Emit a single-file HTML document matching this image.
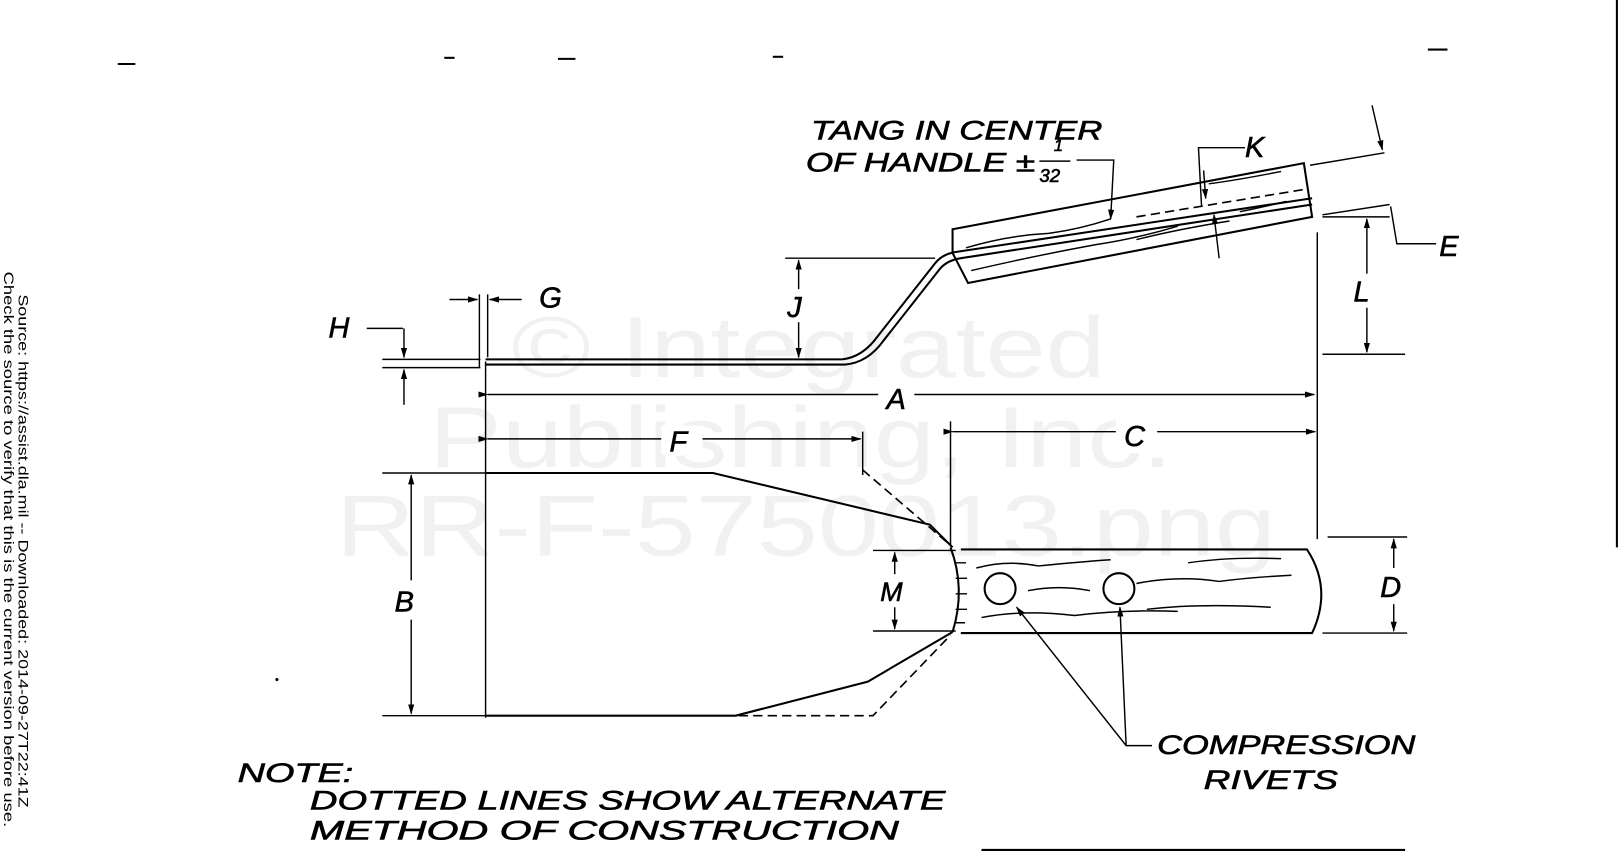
<!DOCTYPE html>
<html><head><meta charset="utf-8"><style>
html,body{margin:0;padding:0;background:#fff;}
svg{display:block;}
text{font-family:"Liberation Sans",sans-serif;font-style:italic;fill:#000;}
.l{stroke:#000;stroke-width:2;fill:none;}
.t{stroke:#000;stroke-width:1.4;fill:none;}
.d{stroke:#000;stroke-width:1.6;fill:none;stroke-dasharray:9 5;}
.w{font-style:normal;fill:#f1f1f1;font-size:84px;}
.h{stroke:#000;stroke-width:0.6;}
</style></head><body>
<svg width="1620" height="852" viewBox="0 0 1568 825" preserveAspectRatio="none" xmlns="http://www.w3.org/2000/svg">
<defs><marker id="a" markerWidth="10" markerHeight="10" refX="9" refY="5" orient="auto" markerUnits="userSpaceOnUse"><path d="M0,2 L10,5 L0,8 z" fill="#000"/></marker></defs>
<!-- watermark -->
<text class="w" x="495" y="365" textLength="575" lengthAdjust="spacingAndGlyphs">© Integrated</text>
<text class="w" x="415" y="452" textLength="720" lengthAdjust="spacingAndGlyphs">Publishing, Inc.</text>
<text class="w" x="325" y="538" textLength="910" lengthAdjust="spacingAndGlyphs">RR-F-5750013.png</text>
<!-- top marks -->
<g class="l" stroke-width="3.5"><line x1="114" y1="62" x2="131" y2="62"/><line x1="430" y1="56" x2="440" y2="56"/><line x1="540" y1="57" x2="557" y2="57"/><line x1="748" y1="55" x2="758" y2="55"/><line x1="1382" y1="48" x2="1401" y2="48"/></g>
<line class="l" x1="1565" y1="0" x2="1565" y2="530" stroke-width="3"/>
<line class="l" x1="950" y1="823" x2="1360" y2="823" stroke-width="3"/>
<!-- side text -->
<g transform="translate(18,285) rotate(90)"><text x="0" y="0" style="font-style:normal;font-size:13px" textLength="497" lengthAdjust="spacingAndGlyphs">Source: https://assist.dla.mil -- Downloaded: 2014-09-27T22:41Z</text></g>
<g transform="translate(4,263) rotate(90)"><text x="0" y="0" style="font-style:normal;font-size:13px" textLength="538" lengthAdjust="spacingAndGlyphs">Check the source to verify that this is the current version before use.</text></g>
<!-- shaft & tang -->
<path class="l" d="M470,348 L815,348 Q835,346 850,325 L905,255 Q912,246 925,244 L1270,192"/>
<path class="l" d="M470,353 L818,353 Q840,351 855,330 L910,260 Q917,252 930,250 L1270,198"/>
<!-- top handle -->
<path class="l" d="M922,222 L1262,158 L1270,210 L937,274 L922,245 Z"/>
<g class="t"><path d="M935,240 q40,-12 80,-14 q30,-4 60,-14"/><path d="M940,262 q60,-14 120,-25 q40,-6 80,-18"/><path d="M1100,232 q40,-10 90,-18"/><path d="M1170,178 q30,-4 70,-12"/><path d="M1200,205 q20,-4 45,-10"/></g>
<path class="d" d="M1100,210 L1265,183"/>
<!-- vertical ext lines -->
<line class="t" x1="470" y1="350" x2="470" y2="695"/>
<line class="t" x1="464" y1="285" x2="464" y2="356"/><line class="t" x1="472" y1="285" x2="472" y2="346"/>
<line class="t" x1="1275" y1="225" x2="1275" y2="522"/>
<line class="t" x1="835" y1="418" x2="835" y2="460"/>
<line class="t" x1="920" y1="408" x2="920" y2="528"/>
<!-- dims A F C -->
<line class="t" x1="472" y1="382" x2="1272" y2="382" marker-start="url(#a)" marker-end="url(#a)"/>
<line class="t" x1="472" y1="425" x2="833" y2="425" marker-start="url(#a)" marker-end="url(#a)"/>
<line class="t" x1="922" y1="418" x2="1273" y2="418" marker-start="url(#a)" marker-end="url(#a)"/>
<rect x="850" y="370" width="35" height="28" fill="#fff"/><text class="h" x="858" y="396" font-size="28">A</text>
<rect x="640" y="412" width="40" height="28" fill="#fff"/><text class="h" x="648" y="437" font-size="28">F</text>
<rect x="1080" y="405" width="40" height="28" fill="#fff"/><text class="h" x="1088" y="432" font-size="28">C</text>
<!-- blade -->
<path class="l" d="M470,458 L690,458 L900,508 L922,530"/>
<path class="l" d="M470,693 L712,693 L840,660 L922,612"/>
<path class="d" d="M835,455 L920,528"/><path class="d" d="M715,693 L845,693 L920,615"/>
<!-- ferrule & bottom handle -->
<path class="l" d="M920,530 Q935,570 922,612"/>
<path class="l" d="M930,532 L1265,532 Q1290,570 1270,613 L930,613"/>
<path class="t" d="M925,545 L935,545 M925,560 L936,560 M925,575 L936,575 M925,590 L936,590 M925,603 L934,603"/>
<g class="t"><path d="M945,550 q30,-8 60,-2 q40,-4 70,-6"/><path d="M995,572 q30,-6 60,0"/><path d="M1100,565 q40,-8 80,-2 q30,-4 70,-6"/><path d="M950,598 q40,-8 90,-2 q50,-6 100,-4"/><path d="M1150,545 q40,-6 90,-4"/><path d="M1110,590 q50,-6 120,-2"/></g>
<circle cx="968" cy="570" r="15" fill="#fff" stroke="#000" stroke-width="2"/>
<circle cx="1083" cy="570" r="15" fill="#fff" stroke="#000" stroke-width="2"/>
<!-- B -->
<line class="t" x1="370" y1="458" x2="470" y2="458"/><line class="t" x1="370" y1="693" x2="470" y2="693"/>
<line class="t" x1="398" y1="562" x2="398" y2="460" marker-end="url(#a)"/><line class="t" x1="398" y1="600" x2="398" y2="691" marker-end="url(#a)"/>
<text class="h" x="382" y="592" font-size="28">B</text>
<!-- M -->
<line class="t" x1="845" y1="533" x2="925" y2="533"/><line class="t" x1="845" y1="611" x2="925" y2="611"/>
<line class="t" x1="866" y1="556" x2="866" y2="535" marker-end="url(#a)"/><line class="t" x1="866" y1="588" x2="866" y2="609" marker-end="url(#a)"/>
<text class="h" x="852" y="582" font-size="26">M</text>
<!-- D -->
<line class="t" x1="1285" y1="520" x2="1362" y2="520"/><line class="t" x1="1280" y1="613" x2="1362" y2="613"/>
<line class="t" x1="1349" y1="550" x2="1349" y2="522" marker-end="url(#a)"/><line class="t" x1="1349" y1="585" x2="1349" y2="611" marker-end="url(#a)"/>
<text class="h" x="1336" y="578" font-size="28">D</text>
<!-- L -->
<line class="t" x1="1280" y1="210" x2="1345" y2="210"/><line class="t" x1="1280" y1="343" x2="1360" y2="343"/>
<line class="t" x1="1323" y1="265" x2="1323" y2="212" marker-end="url(#a)"/><line class="t" x1="1323" y1="298" x2="1323" y2="341" marker-end="url(#a)"/>
<text class="h" x="1310" y="292" font-size="28">L</text>
<!-- J -->
<line class="t" x1="760" y1="250" x2="905" y2="250"/>
<line class="t" x1="773" y1="280" x2="773" y2="252" marker-end="url(#a)"/><line class="t" x1="773" y1="312" x2="773" y2="346" marker-end="url(#a)"/>
<text class="h" x="762" y="307" font-size="28">J</text>
<!-- H -->
<line class="t" x1="370" y1="348" x2="465" y2="348"/><line class="t" x1="370" y1="356" x2="465" y2="356"/>
<line class="t" x1="355" y1="318" x2="390" y2="318"/>
<line class="t" x1="391" y1="318" x2="391" y2="346" marker-end="url(#a)"/><line class="t" x1="391" y1="392" x2="391" y2="358" marker-end="url(#a)"/>
<text class="h" x="318" y="327" font-size="28">H</text>
<!-- G -->
<line class="t" x1="435" y1="290" x2="462" y2="290" marker-end="url(#a)"/><line class="t" x1="505" y1="290" x2="474" y2="290" marker-end="url(#a)"/>
<text class="h" x="522" y="298" font-size="28">G</text>
<!-- K -->
<path class="t" d="M1205,143 L1160,143 L1163,200"/>
<line class="t" x1="1165" y1="165" x2="1167" y2="192" marker-end="url(#a)"/>
<line class="t" x1="1180" y1="250" x2="1175" y2="208" marker-end="url(#a)"/>
<text class="h" x="1205" y="152" font-size="28">K</text>
<!-- E -->
<line class="t" x1="1268" y1="160" x2="1340" y2="148"/>
<line class="t" x1="1280" y1="208" x2="1345" y2="198"/>
<line class="t" x1="1328" y1="102" x2="1338" y2="145" marker-end="url(#a)"/>
<path class="t" d="M1346,200 L1352,236 L1390,236"/>
<text class="h" x="1393" y="248" font-size="28">E</text>
<!-- tang text -->
<text class="h" x="785" y="135" font-size="26" textLength="282" lengthAdjust="spacingAndGlyphs">TANG IN CENTER</text>
<text class="h" x="780" y="166" font-size="26" textLength="222" lengthAdjust="spacingAndGlyphs">OF HANDLE ±</text>
<text class="h" x="1020" y="146" font-size="16">1</text><text class="h" x="1006" y="176" font-size="18">32</text>
<line class="t" x1="1006" y1="156" x2="1036" y2="156"/>
<path class="t" d="M1042,155 L1078,155 L1075,212" marker-end="url(#a)"/>
<!-- rivets -->
<text class="h" x="1120" y="730" font-size="26" textLength="250" lengthAdjust="spacingAndGlyphs">COMPRESSION</text>
<text class="h" x="1165" y="764" font-size="26" textLength="130" lengthAdjust="spacingAndGlyphs">RIVETS</text>
<path class="t" d="M1115,722 L1090,722 L984,588" marker-end="url(#a)"/>
<path class="t" d="M1090,722 L1084,588" marker-end="url(#a)"/>
<!-- note -->
<text class="h" x="230" y="757" font-size="26" textLength="112" lengthAdjust="spacingAndGlyphs">NOTE:</text>
<text class="h" x="300" y="784" font-size="26" textLength="615" lengthAdjust="spacingAndGlyphs">DOTTED LINES SHOW ALTERNATE</text>
<text class="h" x="300" y="813" font-size="26" textLength="570" lengthAdjust="spacingAndGlyphs">METHOD OF CONSTRUCTION</text>
<circle cx="268" cy="658" r="1.5" fill="#000"/>
</svg>
</body></html>
